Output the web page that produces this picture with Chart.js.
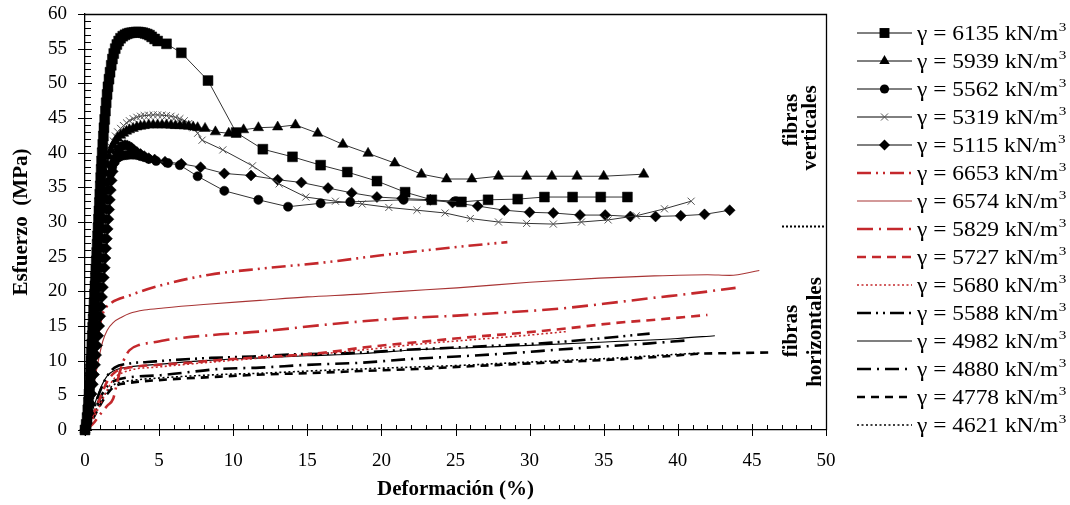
<!DOCTYPE html>
<html>
<head>
<meta charset="utf-8">
<script src="https://cdn.jsdelivr.net/npm/chart.js"></script>
<style>
  html, body { margin: 0; padding: 0; background: #fff; }
  #wrap { width: 1070px; height: 505px; }
</style>
</head>
<body>
<div id="wrap"><canvas id="chart" width="1070" height="505"></canvas></div>
<script>
// Stress-strain curves, [strain %, stress MPa]

// vertical fibres (marker series) - the steep start is densely sampled like the source
const v6135 = [[0,0],[0.08,0.8],[0.14,1.8],[0.19,2.9],[0.23,4.0],[0.27,5.2],[0.31,6.4],[0.34,7.6],[0.37,8.8],[0.4,10],
  [0.43,11.2],[0.46,12.4],[0.49,13.6],[0.52,14.8],[0.55,16],[0.58,17.2],[0.61,18.4],[0.64,19.6],[0.67,20.8],[0.7,22],
  [0.73,23.2],[0.76,24.4],[0.79,25.6],[0.82,26.8],[0.85,28],[0.88,29.2],[0.91,30.4],[0.94,31.6],[0.97,32.8],[1.0,34],
  [1.03,35.2],[1.06,36.4],[1.09,37.6],[1.12,38.8],[1.16,40],[1.2,41.2],[1.24,42.4],[1.28,43.6],[1.33,44.8],[1.38,46],
  [1.43,47.2],[1.49,48.4],[1.55,49.5],[1.62,50.6],[1.69,51.6],[1.77,52.6],[1.85,53.5],[1.94,54.3],[2.04,55],[2.15,55.6],
  [2.27,56.1],[2.4,56.5],[2.55,56.8],[2.7,57.0],[2.85,57.15],[3.0,57.25],[3.15,57.3],[3.3,57.35],[3.45,57.4],[3.6,57.4],
  [3.75,57.35],[3.9,57.3],[4.05,57.2],[4.2,57.1],[4.35,56.95],[4.5,56.7],[4.7,56.4],[4.9,56.1],[5.5,55.7],[6.5,54.4],
  [8.3,50.4],[10.2,42.9],[12.0,40.5],[14.0,39.4],[15.9,38.2],[17.7,37.2],[19.7,35.9],[21.6,34.3],[23.4,33.2],[25.4,32.9],
  [27.2,33.2],[29.2,33.3],[31.0,33.6],[32.9,33.6],[34.8,33.6],[36.6,33.6]];
const v5939 = [[0,0],[0.1,1.2],[0.17,2.6],[0.23,4],[0.28,5.5],[0.33,7],[0.38,8.5],[0.43,10],[0.48,11.5],[0.53,13],
  [0.58,14.5],[0.63,16],[0.68,17.5],[0.73,19],[0.78,20.5],[0.83,22],[0.88,23.5],[0.93,25],[0.98,26.5],[1.03,28],
  [1.08,29.5],[1.13,31],[1.19,32.5],[1.25,34],[1.32,35.5],[1.4,37],[1.5,38.3],[1.62,39.5],[1.75,40.4],[1.9,41.1],
  [2.05,41.7],[2.2,42.1],[2.4,42.5],[2.6,42.8],[2.8,43.1],[3.0,43.3],[3.25,43.5],[3.5,43.7],[3.75,43.8],[4.0,43.9],
  [4.3,44],[4.6,44],[4.9,44],[5.2,44],[5.5,44],[5.8,43.95],[6.1,43.9],[6.4,43.9],[6.7,43.85],[7.0,43.8],
  [7.3,43.7],[7.6,43.6],[8.1,43.5],[8.8,43.0],[9.7,42.8],[10.7,43.3],[11.7,43.6],[13.0,43.7],[14.2,44.0],[15.7,42.8],
  [17.4,41.2],[19.1,39.9],[20.9,38.5],[22.7,36.9],[24.4,36.2],[26.1,36.2],[27.9,36.6],[29.8,36.6],[31.5,36.6],[33.2,36.6],
  [35.0,36.6],[37.7,36.9]];
const v5562 = [[0,0],[0.12,1],[0.22,2.4],[0.3,3.8],[0.37,5.2],[0.44,6.6],[0.5,8],[0.56,9.4],[0.62,10.8],[0.68,12.2],
  [0.74,13.6],[0.8,15],[0.86,16.4],[0.92,17.8],[0.98,19.2],[1.04,20.6],[1.1,22],[1.16,23.4],[1.21,24.8],[1.26,26.2],
  [1.31,27.6],[1.36,29],[1.41,30.4],[1.46,31.8],[1.52,33.2],[1.58,34.6],[1.65,35.9],[1.73,37],[1.83,37.9],[1.95,38.6],
  [2.08,39],[2.25,39.3],[2.4,39.5],[2.6,39.6],[2.8,39.65],[3.0,39.7],[3.25,39.7],[3.5,39.65],[3.75,39.5],[4.0,39.35],
  [4.3,39.1],[4.8,38.8],[5.6,38.5],[6.4,38.2],[7.6,36.6],[9.4,34.5],[11.7,33.2],[13.7,32.2],[15.9,32.7],[17.9,32.9],
  [21.5,33.2],[25.0,33.0]];
const v5319 = [[0,0],[0.1,1.2],[0.17,2.6],[0.23,4],[0.28,5.5],[0.33,7],[0.38,8.5],[0.43,10],[0.48,11.5],[0.53,13],
  [0.58,14.5],[0.63,16],[0.68,17.5],[0.73,19],[0.78,20.5],[0.83,22],[0.88,23.5],[0.93,25],[0.98,26.5],[1.03,28],
  [1.08,29.5],[1.13,31],[1.19,32.5],[1.25,34],[1.32,35.5],[1.4,37],[1.5,38.4],[1.62,39.7],[1.75,40.8],[1.9,41.7],
  [2.05,42.4],[2.2,43],[2.4,43.5],[2.6,43.9],[2.8,44.3],[3.0,44.6],[3.25,44.9],[3.5,45.1],[3.75,45.25],[4.0,45.35],
  [4.3,45.4],[4.6,45.45],[4.9,45.45],[5.2,45.4],[5.5,45.35],[5.8,45.25],[6.1,45.1],[6.4,44.9],[6.7,44.6],[7.0,44.2],
  [7.3,43.6],[7.6,42.8],[7.9,41.8],[9.3,40.4],[11.3,38.1],[13.1,35.5],[14.9,33.6],[16.9,33.0],[18.7,32.6],[20.5,32.1],
  [22.4,31.7],[24.3,31.3],[26.0,30.5],[27.9,30.0],[29.8,29.8],[31.6,29.7],[33.5,30.0],[35.3,30.3],[37.2,30.9],[39.1,31.9],
  [40.9,33.0]];
const v5115 = [[0,0],[0.14,1],[0.26,2.4],[0.36,3.8],[0.45,5.2],[0.53,6.6],[0.61,8],[0.68,9.4],[0.75,10.8],[0.82,12.2],
  [0.89,13.6],[0.96,15],[1.03,16.4],[1.09,17.8],[1.15,19.2],[1.21,20.6],[1.27,22],[1.33,23.4],[1.38,24.8],[1.43,26.2],
  [1.48,27.6],[1.53,29],[1.58,30.4],[1.63,31.8],[1.68,33.2],[1.74,34.6],[1.8,36],[1.87,37.3],[1.95,38.4],[2.04,39.3],
  [2.14,40],[2.26,40.5],[2.4,40.8],[2.55,41],[2.7,41.1],[2.85,41.05],[3.0,40.9],[3.15,40.7],[3.3,40.4],[3.5,40.1],
  [3.75,39.8],[4.0,39.5],[4.3,39.2],[4.7,39.0],[5.4,38.7],[6.5,38.4],[7.8,37.9],[9.4,37.0],[11.2,36.7],[13.0,36.1],
  [14.6,35.7],[16.4,34.9],[18.0,34.2],[19.7,33.6],[21.4,33.4],[23.3,33.2],[24.8,32.8],[26.5,32.3],[28.3,31.7],[30.0,31.4],
  [31.6,31.3],[33.4,31.0],[35.1,31.0],[36.8,30.8],[38.5,30.8],[40.2,30.9],[41.8,31.1],[43.5,31.7]];

// horizontal fibres (line series)
const h6653 = [[0,0],[0.3,4],[0.6,9],[0.9,14],[1.2,16.8],[1.7,18.2],[3,19.4],[5,20.8],[8.4,22.4],[12,23.3],
  [16.3,24.2],[20,25.2],[25.1,26.4],[28.5,27.1]];
const h6574 = [[0,0],[0.3,3],[0.6,6.5],[0.9,10],[1.2,12.8],[1.5,14.4],[1.9,15.5],[2.5,16.3],[3.0,16.8],[4,17.3],
  [5.3,17.6],[8,18.1],[11.8,18.7],[15,19.2],[18.6,19.6],[21.3,20.0],[25.1,20.5],[30,21.3],[34.7,21.9],[38,22.2],
  [42,22.4],[43.5,22.3],[45.5,23.0]];
const h5829 = [[0,0],[0.5,0.8],[1.0,2.2],[1.5,3.5],[1.9,4.5],[2.1,6.2],[2.3,8.0],[2.6,10.0],[3.0,11.5],[3.7,12.3],
  [4.5,12.6],[6.2,13.2],[8.6,13.7],[11.8,14.2],[16.3,15.2],[21.3,16.1],[25.1,16.5],[28,16.9],[32.0,17.5],[35,18.2],
  [38.1,19.0],[41,19.7],[43.9,20.5]];
const h5727 = [[0,0],[0.5,2],[1.0,4.5],[1.5,7],[2.0,8.3],[3,9.0],[5,9.4],[7,9.7],[9.1,10.1],[12,10.5],
  [15.9,11.1],[19.2,12.0],[22.6,12.7],[26,13.4],[29.4,14.0],[32.7,14.7],[35.6,15.4],[39,16.0],[42,16.6]];
const h5680 = [[0,0],[0.5,1.5],[1.0,3.5],[1.5,5.8],[2.0,7.5],[3,8.6],[5,9.1],[7,9.5],[9.1,9.9],[12,10.4],
  [16,11.0],[19,11.6],[22.6,12.4],[26,13.0],[29.5,13.6],[32.5,14.2]];
const h5588 = [[0,0],[0.5,2.5],[1.0,5.5],[1.5,7.8],[2.0,9.0],[3,9.6],[4.2,9.8],[6,10.1],[8.5,10.4],[11.3,10.6],
  [14,10.9],[18,11.1],[22,11.6],[26,12.0],[30,12.4],[31.5,12.6],[34.7,13.2],[38.1,13.9]];
const h4982 = [[0,0],[0.5,2.8],[1.0,5.8],[1.5,7.8],[2.0,8.6],[3,9.1],[5.1,9.5],[8,10.0],[11.8,10.4],[15,10.7],
  [18.6,11.0],[22.6,11.6],[25.1,11.8],[30,12.2],[36.1,12.8],[40,13.2],[42.5,13.6]];
const h4880 = [[0,0],[0.5,2],[1.0,4.5],[1.5,6.3],[2.0,7.1],[3,7.6],[5.1,7.9],[9.1,8.8],[11.8,9.0],[15,9.4],
  [18.6,9.7],[22.4,10.3],[25.1,10.6],[28.9,11.1],[32,11.6],[35.4,12.1],[38.1,12.5],[40.5,12.9]];
const h4778 = [[0,0],[0.5,1.5],[1.0,3.5],[1.5,5.2],[2.0,6.3],[3,6.8],[5,7.2],[9.1,7.7],[12,8.0],[15,8.2],
  [18.6,8.5],[22.4,8.8],[25.1,9.1],[28,9.4],[32,9.8],[36,10.2],[39,10.6],[41.5,11.0],[44,11.1],[46.5,11.2]];
const h4621 = [[0,0],[0.5,1.8],[1.0,4.0],[1.5,5.6],[2.0,6.6],[3,7.1],[5,7.5],[9.1,8.0],[12,8.2],[15,8.5],
  [18.6,8.8],[22.4,9.1],[25.1,9.3],[28,9.6],[32,10.0],[36,10.4],[39,10.8],[41.5,11.1]];

const densities = ['6135','5939','5562','5319','5115','6653','6574','5829','5727','5680','5588','4982','4880','4778','4621'];

const RED = '#c4282c';
const GREY = '#333';

const toXY = arr => arr.map(([x, y]) => ({ x, y }));
const label = d => 'γ = ' + d + ' kN/m³';

function markerSet(d, pts, style, radius, filled) {
  return {
    label: label(d), data: toXY(pts), showLine: true, tension: 0,
    borderColor: GREY, borderWidth: 1,
    pointStyle: style, pointRadius: radius, pointHoverRadius: radius,
    pointBackgroundColor: filled ? '#000' : 'rgba(0,0,0,0)',
    pointBorderColor: filled ? '#000' : '#555',
    pointBorderWidth: filled ? 0.5 : 1,
    clip: false
  };
}

function lineSet(d, pts, color, width, dash) {
  return {
    label: label(d), data: toXY(pts), showLine: true,
    cubicInterpolationMode: 'monotone',
    borderColor: color, borderWidth: width, borderDash: dash,
    pointRadius: 0, pointHoverRadius: 0, clip: false
  };
}

const datasets = [
  markerSet(densities[0], v6135, 'rect', 7, true),
  markerSet(densities[1], v5939, 'triangle', 6, true),
  markerSet(densities[2], v5562, 'circle', 4.6, true),
  markerSet(densities[3], v5319, 'crossRot', 5, false),
  markerSet(densities[4], v5115, 'rectRot', 5.5, true),
  lineSet(densities[5], h6653, RED, 2.6, [14, 5, 2, 5, 2, 5]),
  lineSet(densities[6], h6574, '#a83434', 1.1, []),
  lineSet(densities[7], h5829, RED, 2.6, [16, 6, 2, 6]),
  lineSet(densities[8], h5727, RED, 2.6, [9, 6]),
  lineSet(densities[9], h5680, RED, 1.6, [2, 2.5]),
  lineSet(densities[10], h5588, '#000', 2.6, [14, 5, 2, 5, 2, 5]),
  lineSet(densities[11], h4982, '#000', 1.1, []),
  lineSet(densities[12], h4880, '#000', 2.6, [14, 6, 2, 6]),
  lineSet(densities[13], h4778, '#000', 2.6, [8, 6]),
  lineSet(densities[14], h4621, '#000', 1.6, [2, 2.5])
];

/**
 * Small marker painter for the side legend
 */
function drawMarker(ctx, style, r, x, y) {
  ctx.beginPath();
  if (style === 'rect') {
    const s = r * Math.SQRT1_2;
    ctx.rect(x - s, y - s, 2 * s, 2 * s);
    ctx.fill();
  } else if (style === 'triangle') {
    ctx.moveTo(x, y - r);
    ctx.lineTo(x + r * 0.866, y + r * 0.5);
    ctx.lineTo(x - r * 0.866, y + r * 0.5);
    ctx.closePath();
    ctx.fill();
  } else if (style === 'circle') {
    ctx.arc(x, y, r, 0, Math.PI * 2);
    ctx.fill();
  } else if (style === 'rectRot') {
    ctx.moveTo(x, y - r); ctx.lineTo(x + r, y); ctx.lineTo(x, y + r); ctx.lineTo(x - r, y);
    ctx.closePath();
    ctx.fill();
  } else if (style === 'crossRot') {
    const s = r * Math.SQRT1_2;
    ctx.moveTo(x - s, y - s); ctx.lineTo(x + s, y + s);
    ctx.moveTo(x + s, y - s); ctx.lineTo(x - s, y + s);
    ctx.stroke();
  }
}

// frame, minor/major ticks, side notes
const framePlugin = {
  id: 'frame',
  beforeDatasetsDraw(chart) {
    const { ctx, chartArea: a } = chart;
    const xs = chart.scales.x, ys = chart.scales.y;
    ctx.save();
    ctx.strokeStyle = '#000';
    ctx.lineWidth = 1.3;
    ctx.beginPath();
    ctx.moveTo(a.left, a.top + 0.5); ctx.lineTo(a.right + 0.5, a.top + 0.5); ctx.lineTo(a.right + 0.5, a.bottom);
    ctx.stroke();
    ctx.lineWidth = 1;
    ctx.beginPath();
    for (let v = 0; v <= 50; v++) {
      const px = Math.round(xs.getPixelForValue(v)) + 0.5;
      if (v % 5 === 0) { ctx.moveTo(px, a.bottom - 6); ctx.lineTo(px, a.bottom + 6); }
      else { ctx.moveTo(px, a.bottom); ctx.lineTo(px, a.bottom - 5); }
    }
    for (let v = 0; v <= 60; v++) {
      const py = Math.round(ys.getPixelForValue(v)) + 0.5;
      if (v % 5 === 0) { ctx.moveTo(a.left - 7, py); ctx.lineTo(a.left + 7, py); }
      else { ctx.moveTo(a.left, py); ctx.lineTo(a.left + 6, py); }
    }
    ctx.stroke();

    // dotted separator between the two groups
    ctx.lineWidth = 2;
    ctx.setLineDash([2, 2]);
    ctx.beginPath();
    ctx.moveTo(a.right - 44, 226.5); ctx.lineTo(a.right, 226.5);
    ctx.stroke();
    ctx.restore();
  },
  afterDraw(chart) {
    const ctx = chart.ctx;
    ctx.save();
    ctx.fillStyle = '#000';
    ctx.textAlign = 'center';
    ctx.textBaseline = 'middle';
    const note = (txt, x, y) => {
      ctx.save();
      ctx.translate(x, y);
      ctx.rotate(-Math.PI / 2);
      ctx.font = 'bold 21px "Liberation Serif", "Times New Roman", serif';
      ctx.fillText(txt, 0, 0);
      ctx.restore();
    };
    note('fibras', 792, 120);
    note('verticales', 811, 128);
    note('fibras', 792, 331);
    note('horizontales', 816, 332);
    ctx.restore();
  }
};

const legendPlugin = {
  id: 'sideLegend',
  afterDraw(chart) {
    const ctx = chart.ctx;
    chart.data.datasets.forEach((ds, i) => {
      const y = 33 + i * 28;
      ctx.save();
      ctx.strokeStyle = ds.pointRadius > 0 ? '#000' : ds.borderColor;
      ctx.lineWidth = ds.borderWidth;
      ctx.setLineDash(ds.borderDash || []);
      ctx.beginPath();
      ctx.moveTo(857, y); ctx.lineTo(912, y);
      ctx.stroke();
      ctx.setLineDash([]);
      if (ds.pointRadius > 0) {
        ctx.fillStyle = ds.pointBackgroundColor;
        ctx.strokeStyle = ds.pointBorderColor;
        ctx.lineWidth = 1;
        drawMarker(ctx, ds.pointStyle, ds.pointRadius, 884.5, y);
      }
      // text, with the trailing ³ drawn as a raised small 3
      const main = ds.label.replace('³', '');
      ctx.translate(917, y);
      ctx.scale(1.17, 1);
      ctx.fillStyle = '#000';
      ctx.textAlign = 'left';
      ctx.textBaseline = 'middle';
      ctx.font = '20px "Liberation Serif", "Times New Roman", serif';
      ctx.fillText(main, 0, 2);
      const w = ctx.measureText(main).width;
      ctx.font = '13px "Liberation Serif", "Times New Roman", serif';
      ctx.fillText('3', w + 0.5, -5);
      ctx.restore();
    });
  }
};

new Chart(document.getElementById('chart'), {
  type: 'scatter',
  data: { datasets },
  options: {
    responsive: false,
    animation: false,
    devicePixelRatio: 1,
    events: [],
    layout: { padding: { top: 14, right: 244, bottom: 0, left: 0 } },
    plugins: { legend: { display: false }, tooltip: { enabled: false } },
    scales: {
      x: {
        type: 'linear', min: 0, max: 50,
        afterFit: s => { s.height = 75; s.paddingLeft = 0; s.paddingRight = 0; },
        grid: { display: false },
        border: { display: true, color: '#000', width: 1.3 },
        ticks: {
          stepSize: 5, padding: 12, color: '#000', maxRotation: 0,
          font: { family: '"Liberation Serif", "Times New Roman", serif', size: 19 }
        },
        title: {
          display: true, text: 'Deformación (%)', color: '#000',
          padding: { top: 0, bottom: 3 },
          font: { family: '"Liberation Serif", "Times New Roman", serif', size: 21, weight: 'bold' }
        }
      },
      y: {
        type: 'linear', min: 0, max: 60,
        afterFit: s => { s.width = 85; s.paddingTop = 0; s.paddingBottom = 0; },
        grid: { display: false },
        border: { display: true, color: '#000', width: 1.3 },
        ticks: {
          stepSize: 5, padding: 10, color: '#000',
          font: { family: '"Liberation Serif", "Times New Roman", serif', size: 19 }
        },
        title: {
          display: true, text: 'Esfuerzo  (MPa)', color: '#000',
          padding: { top: 9, bottom: 0 },
          font: { family: '"Liberation Serif", "Times New Roman", serif', size: 21, weight: 'bold' }
        }
      }
    }
  },
  plugins: [framePlugin, legendPlugin]
});
</script>
</body>
</html>
